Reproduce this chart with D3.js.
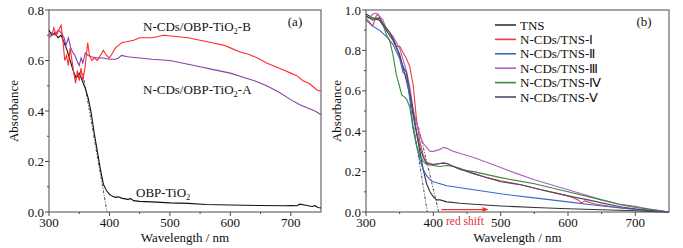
<!DOCTYPE html>
<html><head><meta charset="utf-8"><script src="https://cdn.jsdelivr.net/npm/d3@7"></script></head>
<body style="margin:0">
<svg id="chart" width="683" height="248"></svg>
<script>
// Panel (a) series: [wavelength, absorbance]
const obpTiO2 = [[300,0.72],[305,0.70],[310,0.71],[315,0.69],[320,0.70],[325,0.67],[330,0.64],[335,0.60],[340,0.56],[345,0.53],[350,0.55],[355,0.52],[360,0.49],[365,0.45],[370,0.39],[375,0.31],[380,0.24],[385,0.17],[390,0.11],[395,0.085],[400,0.07],[405,0.062],[410,0.058],[415,0.06],[420,0.055],[430,0.05],[435,0.053],[440,0.045],[450,0.042],[470,0.04],[500,0.036],[530,0.034],[560,0.03],[600,0.028],[650,0.026],[690,0.025],[700,0.026],[710,0.025],[715,0.031],[725,0.027],[735,0.022],[740,0.025],[745,0.018],[750,0.016]];
const tio2B = [[300,0.69],[305,0.70],[308,0.73],[312,0.70],[316,0.72],[320,0.74],[323,0.68],[326,0.60],[329,0.62],[332,0.58],[335,0.65],[338,0.60],[341,0.55],[344,0.51],[347,0.56],[350,0.52],[353,0.57],[356,0.52],[360,0.58],[364,0.67],[367,0.62],[371,0.60],[375,0.61],[380,0.60],[385,0.62],[390,0.64],[395,0.62],[400,0.61],[405,0.63],[410,0.65],[415,0.66],[420,0.67],[430,0.675],[440,0.68],[450,0.69],[470,0.69],[490,0.70],[510,0.695],[530,0.69],[550,0.68],[570,0.67],[590,0.66],[600,0.65],[615,0.635],[630,0.625],[645,0.61],[660,0.59],[675,0.575],[690,0.56],[700,0.55],[710,0.54],[720,0.52],[730,0.51],[740,0.49],[745,0.48],[750,0.48]];
const tio2A = [[300,0.70],[305,0.71],[310,0.70],[315,0.72],[320,0.71],[325,0.69],[328,0.66],[332,0.69],[336,0.65],[340,0.63],[343,0.62],[346,0.60],[350,0.58],[353,0.61],[356,0.59],[360,0.63],[365,0.62],[370,0.615],[380,0.61],[390,0.61],[400,0.605],[410,0.605],[415,0.61],[420,0.62],[430,0.615],[450,0.61],[470,0.605],[500,0.60],[520,0.59],[550,0.575],[570,0.565],[600,0.55],[620,0.535],[640,0.52],[660,0.50],[680,0.475],[700,0.445],[715,0.425],[730,0.41],[740,0.40],[750,0.385]];
const tangentA = [[356,0.55],[396,0.0]];

// Panel (b) series
const bNames = ["TNS","N-CDs/TNS-Ⅰ","N-CDs/TNS-Ⅱ","N-CDs/TNS-Ⅲ","N-CDs/TNS-Ⅳ","N-CDs/TNS-Ⅴ"];
const bColors = ["#333333","#ee3b3b","#3a68c8","#b060c0","#3a8a3a","#4a4a78"];
const tns = [[300,0.98],[310,0.96],[320,0.95],[330,0.90],[340,0.85],[350,0.78],[360,0.65],[365,0.58],[370,0.48],[375,0.39],[380,0.30],[385,0.21],[390,0.14],[395,0.10],[400,0.075],[405,0.06],[410,0.06],[420,0.05],[440,0.043],[460,0.038],[500,0.03],[550,0.022],[600,0.016],[650,0.011],[700,0.006],[730,0.002],[750,0.0]];
const tns1 = [[300,0.96],[305,0.94],[310,0.92],[315,0.97],[318,0.98],[322,0.95],[330,0.91],[335,0.89],[340,0.86],[345,0.82],[350,0.82],[355,0.79],[360,0.76],[365,0.72],[370,0.63],[375,0.46],[380,0.35],[385,0.28],[390,0.245],[400,0.235],[410,0.24],[415,0.245],[420,0.24],[430,0.225],[440,0.21],[460,0.19],[480,0.17],[500,0.155],[530,0.135],[560,0.11],[600,0.08],[615,0.06],[620,0.045],[625,0.055],[640,0.04],[660,0.03],[680,0.02],[700,0.015],[720,0.008],[750,0.0]];
const tns2 = [[300,0.95],[310,0.92],[320,0.90],[330,0.87],[340,0.83],[350,0.76],[355,0.69],[360,0.68],[365,0.56],[370,0.42],[375,0.33],[380,0.26],[385,0.21],[390,0.18],[395,0.16],[400,0.15],[410,0.14],[420,0.13],[440,0.12],[460,0.11],[500,0.09],[550,0.07],[600,0.05],[650,0.03],[700,0.012],[730,0.005],[750,0.0]];
const tns3 = [[300,0.97],[305,0.96],[310,0.98],[315,0.985],[320,0.97],[325,0.95],[330,0.91],[340,0.87],[350,0.81],[360,0.70],[365,0.62],[370,0.51],[375,0.44],[380,0.38],[385,0.34],[390,0.32],[395,0.30],[400,0.30],[405,0.305],[410,0.31],[415,0.32],[420,0.315],[430,0.30],[440,0.29],[460,0.27],[480,0.245],[500,0.22],[520,0.195],[550,0.16],[575,0.135],[600,0.11],[625,0.085],[650,0.06],[675,0.04],[700,0.028],[720,0.015],[740,0.005],[750,0.0]];
const tns4 = [[300,0.97],[305,0.96],[310,0.96],[320,0.96],[325,0.93],[330,0.88],[335,0.85],[340,0.78],[345,0.68],[350,0.62],[353,0.58],[357,0.57],[360,0.56],[365,0.52],[370,0.41],[375,0.33],[380,0.28],[385,0.25],[390,0.235],[400,0.23],[410,0.225],[420,0.23],[430,0.225],[440,0.21],[460,0.20],[480,0.185],[500,0.17],[550,0.14],[600,0.10],[650,0.06],[680,0.035],[700,0.022],[720,0.015],[740,0.005],[750,0.0]];
const tns5 = [[300,0.97],[305,0.96],[310,0.95],[320,0.96],[325,0.93],[330,0.91],[335,0.89],[340,0.86],[345,0.82],[350,0.77],[355,0.72],[360,0.69],[365,0.60],[370,0.50],[375,0.40],[380,0.32],[385,0.27],[390,0.24],[400,0.235],[410,0.24],[420,0.24],[430,0.225],[440,0.215],[460,0.19],[480,0.17],[500,0.15],[530,0.135],[560,0.11],[600,0.08],[630,0.06],[650,0.045],[680,0.025],[700,0.015],[720,0.008],[750,0.0]];
const tangentsB = [[[371,0.42],[391,0.0]],[[378,0.42],[408,0.0]]];

const xTicks = [300, 400, 500, 600, 700];
const FONT = "Liberation Serif";
const svg = d3.select("#chart").attr("font-family", FONT);
const axisColor = "#4a4a4a";

function txt(g) {
  return g.append("text").attr("font-family", FONT).attr("fill", "#111");
}

function panel(left, right, yMax, yTicks) {
  const x = d3.scaleLinear().domain([300, 750]).range([left, right]);
  const y = d3.scaleLinear().domain([0, yMax]).range([212, 10]);
  const g = svg.append("g");
  // frame
  g.append("rect").attr("x", left).attr("y", 10).attr("width", right - left).attr("height", 202)
    .attr("fill", "none").attr("stroke", axisColor).attr("stroke-width", 1);
  // x ticks (outward)
  const xMinor = d3.range(350, 750, 100);
  g.selectAll(".xt").data(xTicks).join("line")
    .attr("x1", d => x(d)).attr("x2", d => x(d)).attr("y1", 212).attr("y2", 216).attr("stroke", axisColor);
  g.selectAll(".xm").data(xMinor).join("line")
    .attr("x1", d => x(d)).attr("x2", d => x(d)).attr("y1", 212).attr("y2", 214).attr("stroke", axisColor);
  xTicks.forEach(d => {
    txt(g).attr("x", x(d)).attr("y", 226.5).attr("text-anchor", "middle").attr("font-size", 13).text(d);
  });
  // y ticks (outward)
  const step = yTicks[1] - yTicks[0];
  const yMinor = yTicks.slice(0, -1).map(v => v + step / 2);
  g.selectAll(".yt").data(yTicks).join("line")
    .attr("x1", left).attr("x2", left - 4).attr("y1", d => y(d)).attr("y2", d => y(d)).attr("stroke", axisColor);
  g.selectAll(".ym").data(yMinor).join("line")
    .attr("x1", left).attr("x2", left - 2).attr("y1", d => y(d)).attr("y2", d => y(d)).attr("stroke", axisColor);
  yTicks.forEach(d => {
    txt(g).attr("x", left - 5).attr("y", y(d) + 4.5).attr("text-anchor", "end").attr("font-size", 13)
      .text(d.toFixed(1));
  });
  txt(g).attr("x", (left + right) / 2).attr("y", 242).attr("text-anchor", "middle")
    .attr("font-size", 13).text("Wavelength / nm");
  return { x, y, g };
}

// ---- Panel (a)
const A = panel(49, 321, 0.8, [0, 0.2, 0.4, 0.6, 0.8]);
const lineA = d3.line().x(d => A.x(d[0])).y(d => A.y(d[1]));
A.g.append("path").datum(tangentA).attr("d", lineA).attr("fill", "none")
  .attr("stroke", "#222").attr("stroke-width", 0.8).attr("stroke-dasharray", "3,1.5,1,1.5");
[[obpTiO2, "#111111"], [tio2A, "#8a3fa8"], [tio2B, "#ff2a2a"]].forEach(([d, c]) => {
  A.g.append("path").datum(d).attr("d", lineA).attr("fill", "none").attr("stroke", c).attr("stroke-width", 1.1);
});
txt(A.g).attr("transform", "translate(18,111) rotate(-90)").attr("text-anchor", "middle")
  .attr("font-size", 13).text("Absorbance");
txt(A.g).attr("x", 295).attr("y", 26).attr("text-anchor", "middle").attr("font-size", 13).text("(a)");

function labelTiO2(g, xp, yp, pre, post) {
  const t = txt(g).attr("x", xp).attr("y", yp).attr("font-size", 13);
  t.append("tspan").text(pre);
  t.append("tspan").attr("font-size", 8.5).attr("dy", 3).text("2");
  t.append("tspan").attr("dy", -3).text(post);
}
labelTiO2(A.g, 143, 31, "N-CDs/OBP-TiO", "-B");
labelTiO2(A.g, 143, 94, "N-CDs/OBP-TiO", "-A");
labelTiO2(A.g, 136, 197, "OBP-TiO", "");

// ---- Panel (b)
const B = panel(366, 669, 1.0, [0, 0.2, 0.4, 0.6, 0.8, 1.0]);
const lineB = d3.line().x(d => B.x(d[0])).y(d => B.y(d[1]));
tangentsB.forEach(t => {
  B.g.append("path").datum(t).attr("d", lineB).attr("fill", "none")
    .attr("stroke", "#222").attr("stroke-width", 0.8).attr("stroke-dasharray", "3,1.5,1,1.5");
});
const bSeries = [tns, tns1, tns2, tns3, tns4, tns5];
bSeries.forEach((d, i) => {
  B.g.append("path").datum(d).attr("d", lineB).attr("fill", "none")
    .attr("stroke", bColors[i]).attr("stroke-width", 1.1);
});
txt(B.g).attr("transform", "translate(341,111) rotate(-90)").attr("text-anchor", "middle")
  .attr("font-size", 13).text("Absorbance");
txt(B.g).attr("x", 644).attr("y", 26).attr("text-anchor", "middle").attr("font-size", 13).text("(b)");

// legend
bNames.forEach((name, i) => {
  const yy = 25 + i * 14.4;
  B.g.append("line").attr("x1", 495).attr("x2", 516).attr("y1", yy).attr("y2", yy)
    .attr("stroke", bColors[i]).attr("stroke-width", 1.6);
  txt(B.g).attr("x", 520).attr("y", yy + 4.5).attr("font-size", 13).text(name);
});

// red shift arrow
const arrow = [[412, 0.012], [478, 0.012]];
B.g.append("path").datum(arrow).attr("d", lineB).attr("stroke", "#ee3030").attr("stroke-width", 1.2).attr("fill", "none");
B.g.append("path")
  .attr("d", `M${B.x(482)},${B.y(0.012)} l-6,-2.5 l0,5 z`).attr("fill", "#ee3030");
txt(B.g).attr("x", B.x(447)).attr("y", 225).attr("text-anchor", "middle")
  .attr("font-size", 11.5).attr("fill", "#ee3030").text("red shift");
</script>
</body>
</html>
